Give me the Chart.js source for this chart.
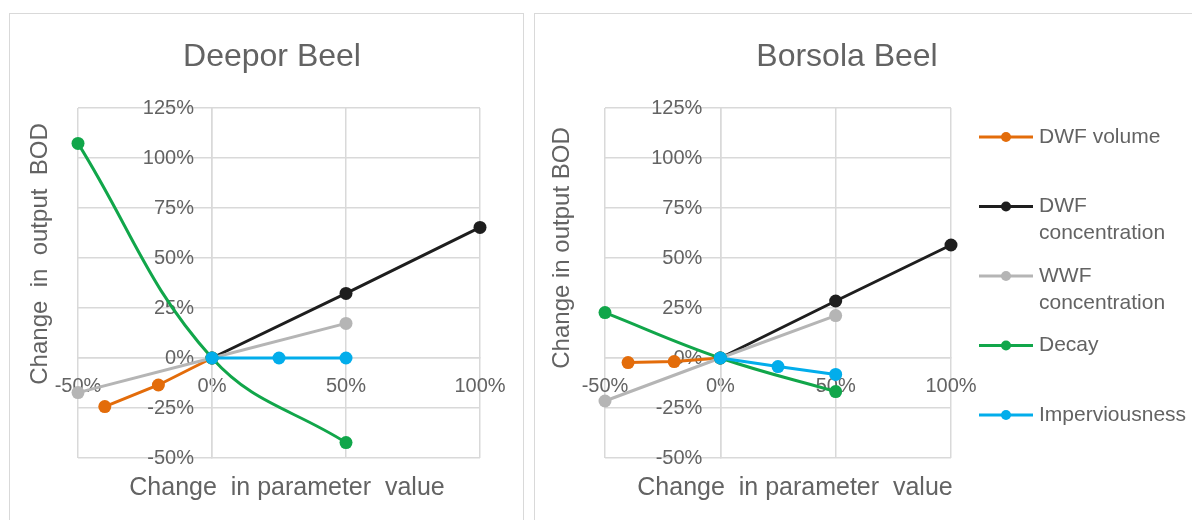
<!DOCTYPE html>
<html>
<head>
<meta charset="utf-8">
<script src="https://cdn.jsdelivr.net/npm/chart.js@4.4.1/dist/chart.umd.min.js"></script>
<style>
  html, body { margin: 0; padding: 0; background: #ffffff; }
  body { width: 1192px; height: 520px; position: relative; overflow: hidden; }
  .panel { position: absolute; border: 1.5px solid #d9d9d9; box-sizing: border-box; }
  canvas { position: absolute; }
</style>
</head>
<body>
<div class="panel" style="left:9px;top:13px;width:515px;height:530px;"></div>
<div class="panel" style="left:534px;top:13px;width:700px;height:530px;"></div>
<canvas id="deepor" width="514" height="506" style="left:9px;top:14px;"></canvas>
<canvas id="borsola" width="658" height="506" style="left:534px;top:14px;"></canvas>
<script>
// Sensitivity runs: change in parameter value (%) for each series
const seriesNames = ['DWF volume', 'DWF concentration', 'WWF concentration', 'Decay', 'Imperviousness'];
const dwfVolumeX = [-40, -20, 0];
const dwfConcX = [0, 50, 100];
const wwfConcX = [-50, 0, 50];
const decayX = [-50, 0, 50];
const imperviousX = [0, 25, 50];

// Deepor Beel: change in output BOD (%)
const deeporDwfVolume = [-24.3, -13.5, 0];
const deeporDwfConc = [0, 32.3, 65.3];
const deeporWwfConc = [-17.3, 0, 17.3];
const deeporDecay = [107.3, 0, -42.3];
const deeporImpervious = [0, 0, 0];

// Borsola Beel: change in output BOD (%)
const borsolaDwfVolume = [-2.3, -1.8, 0];
const borsolaDwfConc = [0, 28.5, 56.5];
const borsolaWwfConc = [-21.5, 0, 21.2];
const borsolaDecay = [22.7, 0, -16.8];
const borsolaImpervious = [0, -4.3, -8.2];

// Axis ticks (%)
const xTicks = [-50, 0, 50, 100];
const yTicks = [-50, -25, 0, 25, 50, 75, 100, 125];

const seriesX = [dwfVolumeX, dwfConcX, wwfConcX, decayX, imperviousX];
const seriesColors = ['#E36C0A', '#1E1E1E', '#B5B5B5', '#11A64A', '#02ADEB'];
const FONT = '"Liberation Sans", Arial, sans-serif';
const TEXT = '#636363';
const GRID = '#d9d9d9';
const Y_LABEL_GAP = 18;   // space between the vertical axis and its value labels

// The value labels of an axis that crosses at x = 0 sit flush on the axis line;
// move them left so they keep a small gap from it.
const yLabelGap = {
  id: 'yLabelGap',
  beforeDraw(chart) {
    const items = chart.scales.y.getLabelItems();
    items.forEach(it => {
      if (!it._shifted) {
        it.options.translation[0] -= Y_LABEL_GAP;
        it._shifted = true;
      }
    });
  }
};

// Titles, axis titles and (optionally) the series key, drawn over each panel
const panelText = {
  id: 'panelText',
  afterDraw(chart, args, o) {
    const ctx = chart.ctx;
    ctx.save();
    ctx.fillStyle = TEXT;
    ctx.textAlign = 'center';
    ctx.textBaseline = 'alphabetic';
    ctx.font = '32px ' + FONT;
    ctx.fillText(o.title, o.titleX, o.titleY);
    ctx.font = '25px ' + FONT;
    ctx.fillText(o.xTitle, o.xTitleX, o.xTitleY);
    ctx.translate(o.yTitleX, o.yTitleY);
    ctx.rotate(-Math.PI / 2);
    ctx.font = '24px ' + FONT;
    ctx.fillText(o.yTitle, 0, 0);
    ctx.restore();

    if (o.legend) {
      const L = o.legend;
      ctx.save();
      ctx.font = '21px ' + FONT;
      ctx.textAlign = 'left';
      ctx.textBaseline = 'middle';
      chart.data.datasets.forEach((ds, i) => {
        const y = L.y0 + i * L.step;
        ctx.strokeStyle = ds.borderColor;
        ctx.lineWidth = 3;
        ctx.beginPath();
        ctx.moveTo(L.x0, y);
        ctx.lineTo(L.x1, y);
        ctx.stroke();
        ctx.fillStyle = ds.borderColor;
        ctx.beginPath();
        ctx.arc((L.x0 + L.x1) / 2, y, 5, 0, Math.PI * 2);
        ctx.fill();
        // wrap the series name into lines that fit the key width
        const words = ds.label.split(' ');
        const lines = [];
        let cur = '';
        words.forEach(w => {
          const t = cur ? cur + ' ' + w : w;
          if (cur && ctx.measureText(t).width > L.maxW) { lines.push(cur); cur = w; }
          else cur = t;
        });
        lines.push(cur);
        ctx.fillStyle = TEXT;
        lines.forEach((ln, k) => ctx.fillText(ln, L.tx, y + k * L.lineH));
      });
      ctx.restore();
    }
  }
};

function makeChart(id, values, padding, text) {
  const datasets = seriesNames.map((name, i) => ({
    label: name,
    data: seriesX[i].map((x, k) => ({ x: x, y: values[i][k] })),
    borderColor: seriesColors[i],
    backgroundColor: seriesColors[i],
    borderWidth: 3,
    pointRadius: 6.5,
    pointHoverRadius: 6.5,
    pointBorderWidth: 0,
    tension: name === 'Decay' ? 0.4 : 0,
    order: seriesNames.length - i,
    clip: false
  }));
  const pct = v => v + '%';
  return new Chart(document.getElementById(id), {
    type: 'line',
    data: { datasets: datasets },
    options: {
      responsive: false,
      animation: false,
      events: [],
      layout: { padding: padding },
      plugins: {
        legend: { display: false },
        tooltip: { enabled: false },
        panelText: text
      },
      scales: {
        x: {
          type: 'linear',
          min: -50, max: 100,
          position: { y: 0 },
          afterBuildTicks: s => { s.ticks = xTicks.map(v => ({ value: v })); },
          grid: { color: GRID, lineWidth: 1.5, drawTicks: false },
          border: { color: GRID, width: 1.5 },
          ticks: { color: TEXT, font: { family: FONT, size: 20 }, padding: 16, autoSkip: false, maxRotation: 0, callback: pct }
        },
        y: {
          type: 'linear',
          min: -50, max: 125,
          position: { x: 0 },
          afterBuildTicks: s => { s.ticks = yTicks.map(v => ({ value: v })); },
          grid: { color: GRID, lineWidth: 1.5, drawTicks: false },
          border: { color: GRID, width: 1.5 },
          ticks: { color: TEXT, font: { family: FONT, size: 20 }, autoSkip: false, callback: pct }
        }
      }
    },
    plugins: [yLabelGap, panelText]
  });
}

makeChart('deepor',
  [deeporDwfVolume, deeporDwfConc, deeporWwfConc, deeporDecay, deeporImpervious],
  { left: 69, right: 43, top: 94, bottom: 62 },
  {
    title: 'Deepor Beel', titleX: 263, titleY: 52,
    xTitle: 'Change  in parameter  value', xTitleX: 278, xTitleY: 481,
    yTitle: 'Change  in  output  BOD', yTitleX: 38, yTitleY: 240
  });

makeChart('borsola',
  [borsolaDwfVolume, borsolaDwfConc, borsolaWwfConc, borsolaDecay, borsolaImpervious],
  { left: 71, right: 241, top: 94, bottom: 62 },
  {
    title: 'Borsola Beel', titleX: 313, titleY: 52,
    xTitle: 'Change  in parameter  value', xTitleX: 261, xTitleY: 481,
    yTitle: 'Change in output BOD', yTitleX: 35, yTitleY: 234,
    legend: { x0: 445, x1: 499, tx: 505, y0: 123, step: 69.5, lineH: 27, maxW: 160 }
  });
</script>
</body>
</html>
